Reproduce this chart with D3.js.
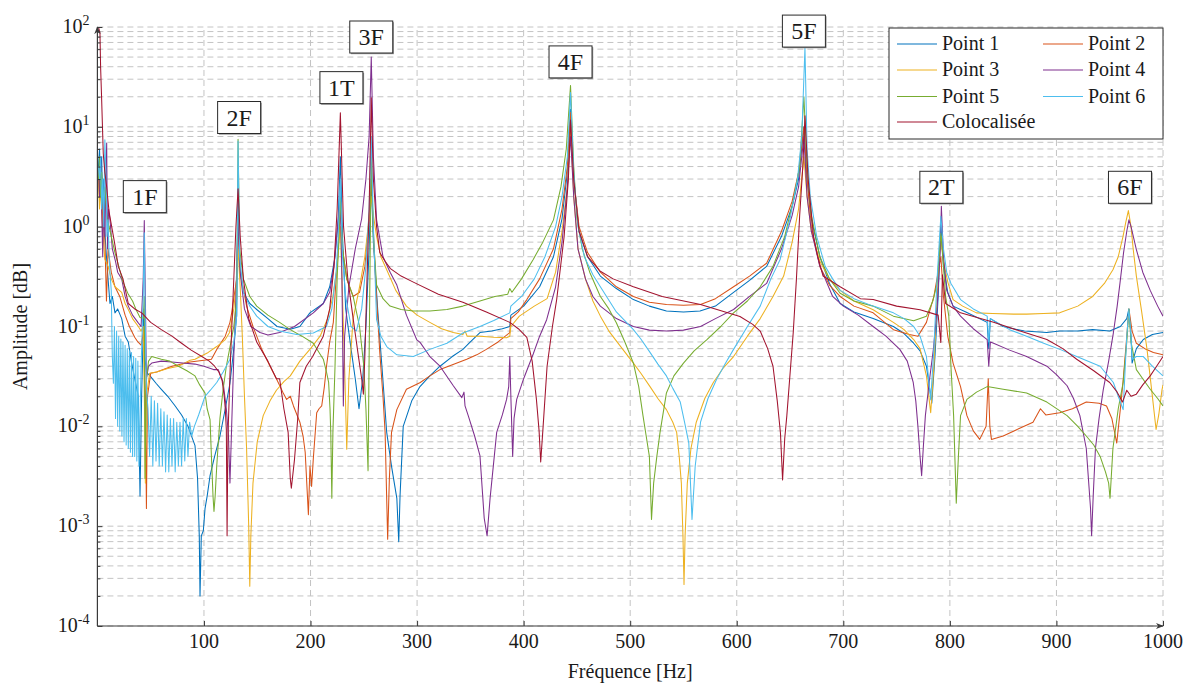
<!DOCTYPE html>
<html><head><meta charset="utf-8">
<script src="https://cdn.jsdelivr.net/npm/d3@7"></script>
<style>
body{margin:0;background:#fff}
svg{display:block}
</style>
</head><body>
<svg id="c" width="1185" height="684"></svg>
<script>
// ---------------- DATA (frequency [Hz], amplitude) ----------------
const seriesNames = ["Point 1","Point 2","Point 3","Point 4","Point 5","Point 6","Colocalisée"];
const seriesColors = ["#0072BD","#D95319","#EDB120","#7E2F8E","#77AC30","#4DBEEE","#A2142F"];

const point1 = [[1,4],[2,6],[3,2.5],[4,5],[5,1.5],[6,3],[7,0.9],[8,0.6],[10,0.3],[11.8,0.17],[14,0.2],[16.5,0.137],[19,0.15],[22.8,0.12],[26,0.08],[29,0.07],[32,0.044],[35,0.03],[38.4,0.02],[40,0.002],[41.5,0.02],[43.5,0.15],[44.5,0.05],[46,0.035],[49.4,0.032],[55,0.027],[60,0.0235],[66,0.02],[73,0.016],[79,0.013],[85,0.01],[91.6,0.0064],[94,0.003],[95.6,0.0008],[96.3,0.0002],[97.5,0.0008],[99.4,0.0009],[101,0.0015],[103,0.002],[105.7,0.0032],[110,0.005],[115,0.008],[120,0.015],[124.4,0.027],[128,0.06],[130.7,0.13],[132,3],[133.5,0.4],[137,0.22],[143,0.17],[149.5,0.148],[160,0.12],[168.6,0.1],[181,0.094],[190,0.1],[199.4,0.137],[212,0.17],[218,0.25],[223,0.5],[226,1.2],[228,5],[230,0.8],[233,0.15],[238,0.06],[242,0.03],[245.5,0.015],[249,0.03],[252,0.1],[255,0.6],[257,3],[259,0.7],[263,0.15],[267,0.04],[271.5,0.0087],[276,0.004],[281,0.0019],[282.8,0.0007],[284,0.002],[287,0.01],[295,0.018],[302.7,0.025],[312,0.032],[321.5,0.04],[333,0.05],[343,0.059],[350,0.07],[359,0.087],[370,0.09],[380,0.095],[387,0.1],[388,0.13],[400,0.16],[415,0.25],[428,0.5],[436,1.2],[441,3.5],[444,15],[447,3],[452,0.9],[460,0.5],[472,0.32],[487,0.24],[503,0.186],[518,0.16],[534,0.143],[550,0.14],[565.5,0.143],[580,0.16],[597,0.22],[612,0.29],[628,0.4],[642,0.8],[652,1.6],[658,3],[663,10],[666,3],[670,1.2],[678,0.5],[687,0.27],[697,0.17],[710,0.14],[728,0.12],[747,0.1],[757,0.085],[766,0.068],[772,0.057],[778,0.04],[783,0.017],[786,0.05],[789,0.2],[791.5,1.1],[794,0.4],[798,0.22],[803,0.16],[815,0.14],[835,0.11],[836.5,0.06],[838,0.12],[850,0.1],[870,0.09],[891,0.087],[903,0.09],[920,0.09],[934,0.093],[950,0.09],[960,0.1],[966,0.12],[968,0.15],[970,0.08],[971,0.043],[975,0.06],[981.5,0.074],[990,0.083],[1000,0.087]];

const point2 = [[1,3],[2,2],[3,4],[5,1.2],[7,0.74],[8.5,0.18],[10,0.6],[13,0.35],[16.5,0.25],[21,0.2],[26,0.13],[30,0.1],[35,0.078],[38,0.07],[41,0.065],[43.5,0.09],[45,0.02],[46,0.0015],[47,0.02],[50,0.034],[55.6,0.035],[70,0.04],[87,0.044],[100,0.046],[107,0.047],[112,0.059],[120,0.08],[124.4,0.11],[126,0.137],[130.7,0.3],[132,1.0],[134,0.35],[140,0.16],[146,0.1],[154,0.06],[162,0.04],[168,0.03],[174,0.022],[177.6,0.0186],[181,0.02],[184,0.016],[190,0.011],[193,0.008],[195,0.0055],[198,0.0013],[199.5,0.004],[201,0.0025],[202.6,0.0047],[205.8,0.0137],[208,0.015],[210.5,0.016],[213,0.025],[215,0.04],[218,0.07],[221.4,0.11],[224,0.3],[226,0.6],[228,1.5],[230,0.6],[234,0.3],[240,0.2],[246,0.22],[251,0.4],[255,1.2],[257,3],[259,0.9],[261,0.3],[265,0.055],[268,0.02],[270,0.0087],[272.4,0.00074],[274,0.003],[276,0.0087],[281,0.0147],[290,0.0235],[303,0.0275],[312,0.032],[321.5,0.037],[335,0.042],[346.6,0.047],[356,0.052],[365,0.059],[376,0.07],[387,0.087],[388,0.12],[395,0.14],[403,0.186],[415,0.3],[428,0.6],[436,1.5],[441,4],[444,14],[447,3],[452,1.0],[460,0.55],[472,0.35],[487,0.25],[503,0.2],[518,0.175],[534,0.166],[550,0.163],[566,0.166],[580,0.19],[597,0.25],[612,0.32],[628,0.43],[642,0.9],[652,1.8],[658,3.5],[663,10],[666,3],[670,1.0],[678,0.4],[687,0.26],[697,0.2],[710,0.16],[728,0.137],[747,0.093],[762,0.083],[770,0.08],[778,0.11],[785,0.2],[789,0.35],[791.5,0.5],[794,0.2],[798,0.08],[803,0.043],[810,0.025],[816,0.0128],[822,0.009],[828,0.0074],[834,0.01],[836,0.03],[837.5,0.01],[839,0.0074],[850,0.008],[865,0.0095],[878,0.011],[885,0.015],[890,0.013],[903,0.0137],[915,0.015],[928,0.0175],[940,0.017],[947,0.016],[952,0.012],[956.6,0.0068],[960,0.015],[962.5,0.028],[966,0.08],[968,0.15],[971,0.09],[975,0.068],[983,0.06],[991,0.055],[1000,0.052]];

const point3 = [[1,3],[2,1.5],[3,2.5],[5,0.9],[7,0.47],[10,0.4],[13,0.3],[16.5,0.25],[22.8,0.22],[26,0.17],[29,0.148],[33,0.12],[38.4,0.1],[41,0.09],[43,0.1],[44.5,0.01],[45,0.0027],[46,0.02],[49,0.034],[55.6,0.035],[66,0.038],[76,0.04],[87,0.046],[91.6,0.047],[104,0.055],[112,0.063],[120,0.074],[124,0.087],[128,0.15],[130.7,0.3],[132,0.6],[134,0.25],[136,0.08],[138,0.02],[140,0.006],[142,0.001],[143,0.00025],[144,0.0008],[146,0.0027],[150,0.007],[155.6,0.0128],[162,0.018],[168,0.023],[175,0.028],[181,0.032],[190,0.045],[200,0.06],[209,0.08],[216,0.12],[221,0.2],[225,0.4],[228,1.0],[230,0.2],[232,0.04],[234,0.0059],[236,0.03],[240,0.12],[246,0.25],[251,0.5],[254,1.0],[257,2],[259,1.3],[262,0.8],[266,0.5],[271.5,0.37],[280,0.23],[290,0.16],[300,0.13],[312,0.11],[323,0.095],[334,0.087],[343,0.083],[345,0.09],[347,0.08],[359,0.08],[372,0.078],[384,0.077],[387,0.08],[388,0.1],[396,0.127],[410,0.16],[422,0.19],[430,0.35],[436,0.9],[441,2.5],[444,10],[447,2],[451,0.6],[458,0.3],[465,0.18],[472,0.127],[480,0.09],[490,0.065],[503,0.043],[510,0.034],[518.6,0.025],[526,0.019],[534,0.0147],[540,0.011],[543.6,0.0087],[546,0.005],[548,0.0027],[549.5,0.0008],[550.5,0.00026],[551.5,0.0008],[553.6,0.0027],[557,0.006],[562,0.011],[570,0.019],[578,0.0275],[587,0.038],[597,0.05],[610,0.08],[622,0.12],[634,0.2],[644,0.32],[652,0.7],[658,1.5],[663,5],[666,2],[670,0.9],[678,0.45],[687,0.3],[697,0.23],[710,0.18],[728,0.147],[747,0.11],[757,0.093],[766,0.074],[772,0.06],[778,0.032],[782,0.0137],[785,0.04],[788,0.2],[791.5,0.8],[794,0.45],[798,0.28],[803,0.186],[812,0.16],[825,0.137],[840,0.135],[860,0.133],[872,0.133],[888,0.135],[903,0.137],[920,0.16],[934,0.2],[945,0.27],[953,0.37],[958,0.5],[962.5,0.8],[965,1.1],[967.5,1.45],[970,1.0],[972,0.6],[975,0.32],[980,0.14],[985,0.059],[989,0.025],[993.5,0.0093],[996,0.013],[999,0.023],[1000,0.026]];

const point4 = [[1,4],[2,2],[3,5],[4,1.5],[5,0.5],[6,2],[7,0.8],[8.7,6.9],[9.5,0.6],[10.5,1.5],[11.8,1.17],[14,0.6],[17,0.45],[19,0.35],[22.8,0.3],[26,0.2],[29,0.16],[33,0.13],[38,0.11],[41,0.1],[43,0.3],[44,1.15],[45,0.2],[46,0.03],[48,0.04],[51,0.043],[60,0.045],[70,0.044],[80,0.043],[91.6,0.042],[100,0.04],[109,0.037],[113.4,0.037],[118,0.0275],[121,0.015],[123,0.008],[124.4,0.0027],[126,0.01],[128,0.05],[130,0.2],[132,1.2],[134,0.35],[138,0.15],[144,0.1],[152.6,0.087],[160,0.082],[171,0.087],[185,0.1],[202.6,0.137],[212,0.17],[218,0.22],[222,0.4],[225,0.9],[228,2],[229.5,0.3],[230.8,0.016],[232,0.08],[236,0.25],[242,0.6],[248,1.2],[252,3],[255,8],[257,50],[259,5],[262,1.17],[268,0.5],[274.7,0.35],[281,0.26],[290,0.13],[299.6,0.074],[303,0.069],[312,0.05],[321.5,0.04],[334,0.0255],[342,0.0194],[344,0.022],[345,0.016],[348,0.0128],[354,0.008],[359,0.0051],[363,0.0012],[365.7,0.0008],[368.5,0.0019],[374.7,0.0087],[380,0.013],[384,0.0186],[386,0.025],[387,0.05],[388,0.02],[389.7,0.005],[391,0.012],[393.5,0.0186],[400,0.03],[409,0.053],[415,0.08],[421.6,0.117],[430,0.25],[436,0.7],[441,2.5],[444,8],[447,2],[451,0.6],[458,0.3],[465,0.2],[472,0.16],[487,0.12],[503,0.1],[518,0.092],[534,0.09],[550,0.092],[566,0.1],[580,0.12],[597,0.148],[612,0.2],[628,0.27],[642,0.6],[652,1.3],[658,2.5],[663,8],[666,2],[670,0.9],[678,0.4],[690,0.2],[700,0.16],[714,0.13],[728,0.1],[740,0.08],[753,0.059],[760,0.045],[765.6,0.0275],[768,0.018],[770,0.01],[772,0.005],[773.5,0.0032],[775,0.006],[777,0.0128],[781,0.03],[784.5,0.059],[788,0.15],[791,0.6],[792,1.6],[794,0.5],[797,0.23],[803,0.16],[810,0.127],[822,0.095],[835,0.074],[836.5,0.04],[838,0.07],[841,0.068],[856,0.058],[872,0.05],[891,0.04],[900,0.033],[910,0.0255],[916,0.019],[922,0.0128],[928,0.006],[930,0.003],[932,0.0015],[933,0.0008],[934.5,0.002],[936.6,0.006],[940,0.012],[944,0.0235],[949,0.045],[953.4,0.086],[957,0.16],[959.6,0.27],[963,0.55],[966,0.9],[968,1.17],[970,1.0],[975,0.59],[981,0.35],[988,0.23],[995,0.16],[1000,0.127]];

const point5 = [[1,3],[2,5],[3,2],[4,3.5],[5,2],[7,2.5],[9,1.2],[11,1.0],[13,0.8],[16.5,0.55],[20,0.4],[24,0.28],[29,0.21],[33,0.18],[36,0.15],[40,0.123],[43,0.12],[44,0.2],[44.7,0.003],[46,0.03],[48,0.045],[51,0.05],[60,0.047],[68,0.045],[76,0.04],[84,0.036],[91.6,0.032],[96,0.026],[101,0.0215],[103,0.015],[105.7,0.0117],[107,0.005],[108.5,0.002],[109.4,0.0014],[110.5,0.002],[112,0.004],[115,0.012],[118,0.0235],[121,0.04],[124,0.059],[128,0.1],[130.7,0.19],[132,7.5],[133.5,0.6],[137,0.3],[143,0.2],[149.5,0.16],[160,0.13],[171,0.11],[181,0.093],[192,0.08],[202.6,0.068],[208,0.055],[212,0.047],[215,0.035],[217,0.0275],[218.3,0.015],[219,0.0087],[220,0.0019],[221,0.0087],[223,0.04],[225,0.3],[228,2],[230,0.6],[234,0.3],[240,0.2],[246,0.1],[250,0.04],[252,0.015],[254,0.0036],[255,0.05],[256,0.6],[257,5],[259,0.8],[262,0.26],[268,0.19],[274.6,0.16],[285,0.148],[296.5,0.143],[312,0.143],[328,0.148],[343,0.16],[359,0.18],[373,0.2],[385,0.21],[387,0.24],[389,0.22],[398,0.3],[409,0.47],[418,0.7],[428,1.17],[435,2.5],[440,6],[444,26],[447,4],[450,1.2],[455,0.6],[462,0.35],[472,0.2],[480,0.15],[487,0.109],[495,0.07],[503,0.043],[508,0.025],[512,0.0128],[515,0.008],[518,0.005],[520,0.00117],[522,0.0027],[525,0.005],[528,0.0087],[534,0.0216],[541,0.032],[550,0.043],[560,0.057],[572,0.074],[585,0.1],[597,0.137],[610,0.18],[622,0.25],[634,0.4],[645,0.8],[653,1.8],[659,4],[663,20],[666,4],[670,1.3],[678,0.5],[687,0.3],[697,0.215],[710,0.18],[728,0.16],[747,0.127],[766,0.114],[778,0.127],[784,0.18],[788,0.27],[791.5,0.86],[794,0.4],[796,0.2],[799,0.127],[801,0.04],[803.5,0.0128],[806,0.0017],[808,0.005],[810,0.0128],[816,0.0186],[825,0.022],[835,0.025],[850,0.0235],[872,0.0216],[891,0.0175],[910,0.0128],[920,0.01],[928,0.008],[935,0.0065],[941,0.005],[946,0.0035],[949,0.0027],[950.3,0.0019],[953,0.006],[958,0.015],[962.6,0.0275],[966,0.07],[968,0.15],[970,0.07],[975,0.037],[981,0.03],[988,0.0235],[995,0.019],[1000,0.016]];

const point6 = [[1,4],[2,3],[3,5],[4,1.5],[5,3],[6,1],[7,7.4],[8,3.4],[9,0.8],[10,1.17],[11,0.5],[11.8,0.35],[13,0.23],[14,0.05],[15,0.027],[16,0.1],[17,0.012],[18,0.09],[19,0.01],[20,0.08],[21,0.009],[22,0.075],[23,0.008],[24,0.07],[25,0.007],[26,0.065],[27,0.0065],[28,0.06],[29,0.006],[30,0.057],[31,0.0055],[32,0.055],[33,0.005],[34,0.05],[35,0.005],[36,0.048],[37,0.0045],[38,0.045],[39,0.004],[41,0.04],[43,0.2],[44,0.87],[45,0.1],[46,0.0235],[47.5,0.015],[49,0.005],[50.5,0.02],[52,0.004],[53.5,0.018],[55,0.0045],[56.5,0.017],[58,0.004],[59.5,0.015],[61,0.004],[62.5,0.014],[64,0.0035],[65.5,0.013],[67,0.0035],[68.5,0.012],[70,0.004],[71.5,0.012],[73,0.0035],[74.5,0.011],[76,0.004],[77.5,0.011],[79,0.004],[80.5,0.012],[82,0.0045],[83.5,0.012],[85,0.005],[86.5,0.011],[88.5,0.008],[91,0.01],[95,0.013],[101,0.02],[106,0.023],[112,0.0275],[118,0.035],[124.4,0.047],[128,0.07],[130.7,0.127],[132,7.2],[133.5,0.5],[137,0.22],[143,0.16],[149.5,0.127],[160,0.1],[171,0.09],[187,0.083],[202.6,0.086],[215,0.1],[220,0.15],[224,0.35],[226,0.8],[228,3],[230,0.5],[233,0.2],[238,0.1],[243,0.09],[248,0.15],[252,0.4],[255,1.5],[257,8],[259,1.0],[262,0.117],[266,0.08],[271.5,0.063],[281,0.052],[296.5,0.05],[312,0.059],[328,0.068],[343,0.086],[359,0.1],[372,0.115],[387,0.137],[388,0.16],[398,0.2],[410,0.3],[420,0.5],[430,1.0],[436,2],[441,5],[444,22],[447,3.5],[451,1.0],[457,0.5],[465,0.33],[472,0.25],[487,0.14],[503,0.093],[510,0.075],[518.6,0.055],[526,0.042],[534,0.032],[540,0.024],[547,0.0175],[551,0.011],[555,0.0068],[558,0.00117],[561,0.004],[566,0.011],[573,0.019],[581,0.0295],[589,0.042],[597,0.059],[610,0.1],[622,0.16],[632,0.3],[640.7,0.47],[650,1.2],[657,3],[661,8],[664,62],[666,6],[669,2],[675,0.8],[683,0.4],[690,0.3],[697,0.23],[710,0.19],[728,0.16],[747,0.137],[757,0.12],[766,0.1],[772,0.08],[778,0.05],[782,0.0186],[785,0.06],[788,0.3],[791.5,1.27],[794,0.6],[797,0.35],[801,0.27],[810,0.186],[822,0.15],[835,0.127],[836.5,0.07],[838,0.12],[856,0.093],[872,0.08],[888,0.068],[905,0.058],[919,0.05],[941,0.04],[953.4,0.0275],[958,0.02],[962.6,0.0147],[966,0.08],[968,0.15],[970,0.08],[971,0.047],[975,0.05],[981.5,0.05],[990,0.04],[1000,0.032]];

const colocalisee = [[1,100],[1.5,95],[2.4,87],[3,40],[4,18.6],[5.5,5.4],[7,3.5],[8.7,2.5],[11,1.4],[13.4,1.0],[16,0.7],[19.6,0.4],[24,0.3],[29,0.17],[35,0.15],[41.6,0.137],[50,0.11],[60,0.093],[70,0.08],[79,0.068],[88,0.058],[98,0.05],[105,0.045],[110,0.04],[114,0.035],[117,0.029],[119,0.02],[120,0.015],[121,0.0093],[121.7,0.0008],[122.5,0.008],[125,0.05],[128,0.3],[130,1.0],[132,2.4],[134,0.8],[137,0.3],[142,0.12],[149.5,0.07],[160,0.045],[168,0.03],[171,0.03],[175,0.015],[179,0.0087],[181,0.003],[182,0.0024],[185,0.0047],[188,0.012],[190,0.0275],[196,0.04],[202,0.05],[212,0.08],[218,0.15],[222,0.4],[225,1.5],[228,13.8],[231,1.0],[235,0.3],[240,0.12],[245,0.05],[248,0.03],[249.6,0.021],[251,0.05],[253,0.3],[255,1.5],[257,19.5],[259,3],[262,1.0],[265,0.55],[270,0.45],[275,0.38],[285,0.32],[296,0.28],[320,0.21],[343,0.175],[365,0.14],[387,0.11],[395,0.095],[403,0.078],[408,0.045],[412,0.0186],[414.5,0.009],[416,0.0044],[418,0.009],[422,0.04],[427,0.1],[431,0.186],[438,0.8],[442,3],[444,11.7],[447,3],[452,0.9],[460,0.5],[471.6,0.36],[484,0.3],[503,0.25],[530,0.2],[566,0.166],[603,0.126],[615,0.105],[622,0.09],[629,0.06],[634,0.04],[638,0.018],[641,0.0086],[643,0.0029],[645,0.0075],[647,0.0128],[653,0.087],[656,0.3],[659,1.27],[662,4],[664,12.9],[667,3],[672,0.8],[676,0.5],[681,0.32],[697,0.25],[716,0.19],[728,0.186],[750,0.16],[772,0.147],[789,0.13],[791.5,0.069],[793,0.33],[796,0.17],[810,0.137],[841,0.11],[866,0.09],[891,0.074],[906,0.06],[919,0.047],[935,0.036],[950,0.0275],[957,0.022],[962,0.0175],[966,0.023],[970,0.02],[975,0.021],[981,0.026],[988,0.032],[994,0.04],[1000,0.05]];

const modeLabels = ["1F","2F","1T","3F","4F","5F","2T","6F"];
const modeFreqs = [44.5,133,229,257,444,663,792,969];
const modeLabelAmps = [2.0,12.4,24.7,79.4,44.7,91,2.48,2.48];

const xTickValues = [100,200,300,400,500,600,700,800,900,1000];
const yTickExponents = [-4,-3,-2,-1,0,1,2];

// ---------------- CHART ----------------
const FONT = "'Liberation Serif','DejaVu Serif','Times New Roman',serif";
const svg = d3.select("#c").attr("font-family", FONT).style("font-family", FONT);
const X0 = 97.4, X1 = 1163, Y0 = 626, Y1 = 27;
const x = d3.scaleLinear().domain([0,1000]).range([X0,X1]);
const y = d3.scaleLog().domain([1e-4,1e2]).range([Y0,Y1]);

const gridColor = "#c4c4c4";
const grid = svg.append("g");
y.ticks().forEach(v => {
  grid.append("line").attr("x1",X0).attr("x2",X1).attr("y1",y(v)).attr("y2",y(v))
    .attr("stroke",gridColor).attr("stroke-width",1).attr("stroke-dasharray","6,4");
});
xTickValues.forEach(v => {
  grid.append("line").attr("x1",x(v)).attr("x2",x(v)).attr("y1",Y0).attr("y2",Y1)
    .attr("stroke",gridColor).attr("stroke-width",1).attr("stroke-dasharray","6,4");
});

const defs = svg.append("defs");
defs.append("clipPath").attr("id","clip")
  .append("rect").attr("x",X0).attr("y",Y1).attr("width",X1-X0).attr("height",Y0-Y1);

const allSeries = [point1,point2,point3,point4,point5,point6,colocalisee];
const line = d3.line().x(d=>x(d[0])).y(d=>y(d[1]));
const gLines = svg.append("g").attr("clip-path","url(#clip)");
allSeries.forEach((s,i) => {
  gLines.append("path").datum(s).attr("d",line).attr("fill","none")
    .attr("stroke",seriesColors[i]).attr("stroke-width",1.05).attr("stroke-linejoin","round");
});

// axes
const axisColor = "#3a3a3a";
const yAxis = d3.axisLeft(y).tickValues(y.ticks()).tickFormat("").tickSizeOuter(0).tickSizeInner(-3);
const gy = svg.append("g").attr("transform",`translate(${X0},0)`).call(yAxis);
gy.selectAll(".tick line").attr("stroke",axisColor)
  .attr("x2", d => { const e = Math.log10(d); return Math.abs(e-Math.round(e))<1e-9 ? 5 : 3; });
gy.select(".domain").remove();
const xAxis = d3.axisBottom(x).tickValues(xTickValues).tickFormat("").tickSizeOuter(0).tickSizeInner(-5);
const gx = svg.append("g").attr("transform",`translate(0,${Y0})`).call(xAxis);
gx.selectAll(".tick line").attr("stroke",axisColor);
gx.select(".domain").remove();

defs.append("marker").attr("id","arr").attr("viewBox","0 0 10 10").attr("refX",9).attr("refY",5)
  .attr("markerWidth",8).attr("markerHeight",8).attr("markerUnits","userSpaceOnUse").attr("orient","auto")
  .append("path").attr("d","M0,1 L10,5 L0,9 L3,5 Z").attr("fill",axisColor);
svg.append("line").attr("x1",X0).attr("x2",X1).attr("y1",Y0).attr("y2",Y0)
  .attr("stroke",axisColor).attr("stroke-width",1.2).attr("marker-end","url(#arr)");
svg.append("line").attr("x1",X0).attr("x2",X0).attr("y1",Y0).attr("y2",Y1)
  .attr("stroke",axisColor).attr("stroke-width",1.2).attr("marker-end","url(#arr)");

const txt = (sel) => sel.attr("font-family",FONT).style("font-family",FONT).attr("fill","#1a1a1a");

// tick labels
xTickValues.forEach(v => {
  svg.append("text").call(txt).attr("x",x(v)).attr("y",Y0+22).attr("text-anchor","middle")
    .attr("font-size",20).text(v);
});
yTickExponents.forEach(e => {
  const t = svg.append("text").call(txt).attr("x",X0-8).attr("y",y(Math.pow(10,e))+6)
    .attr("text-anchor","end").attr("font-size",20);
  t.append("tspan").text("10");
  t.append("tspan").attr("dy",-8).attr("font-size",14).text(e);
});

// axis titles
svg.append("text").call(txt).attr("x",(X0+X1)/2).attr("y",678).attr("text-anchor","middle")
  .attr("font-size",20).text("Fréquence [Hz]");
svg.append("text").call(txt).attr("transform",`translate(27,${(Y0+Y1)/2}) rotate(-90)`)
  .attr("text-anchor","middle").attr("font-size",20).text("Amplitude [dB]");

// mode labels
const bw = 43, bh = 32;
modeLabels.forEach((lab,i) => {
  const cx = x(modeFreqs[i]), cy = y(modeLabelAmps[i]);
  const g = svg.append("g");
  g.append("rect").attr("x",cx-bw/2+1.2).attr("y",cy-bh/2+1.2).attr("width",bw).attr("height",bh)
    .attr("fill","#9a9a9a");
  g.append("rect").attr("x",cx-bw/2).attr("y",cy-bh/2).attr("width",bw).attr("height",bh)
    .attr("fill","#fff").attr("stroke","#2a2a2a").attr("stroke-width",1);
  g.append("text").call(txt).attr("x",cx).attr("y",cy+8).attr("text-anchor","middle")
    .attr("font-size",24).text(lab);
});

// legend
const lg = svg.append("g");
lg.append("rect").attr("x",889).attr("y",28).attr("width",274).attr("height",111)
  .attr("fill","#fff").attr("stroke","#2a2a2a").attr("stroke-width",1);
const rowsY = [44,70,96.5,122];
seriesNames.forEach((n,i) => {
  const col = i % 2, row = Math.floor(i/2);
  const lx = col === 0 ? 897 : 1043;
  const ly = rowsY[row];
  lg.append("line").attr("x1",lx).attr("x2",lx+40).attr("y1",ly).attr("y2",ly)
    .attr("stroke",seriesColors[i]).attr("stroke-width",1.1);
  lg.append("text").call(txt).attr("x",lx+45).attr("y",ly+6).attr("font-size",20).text(n);
});
</script>
</body></html>
